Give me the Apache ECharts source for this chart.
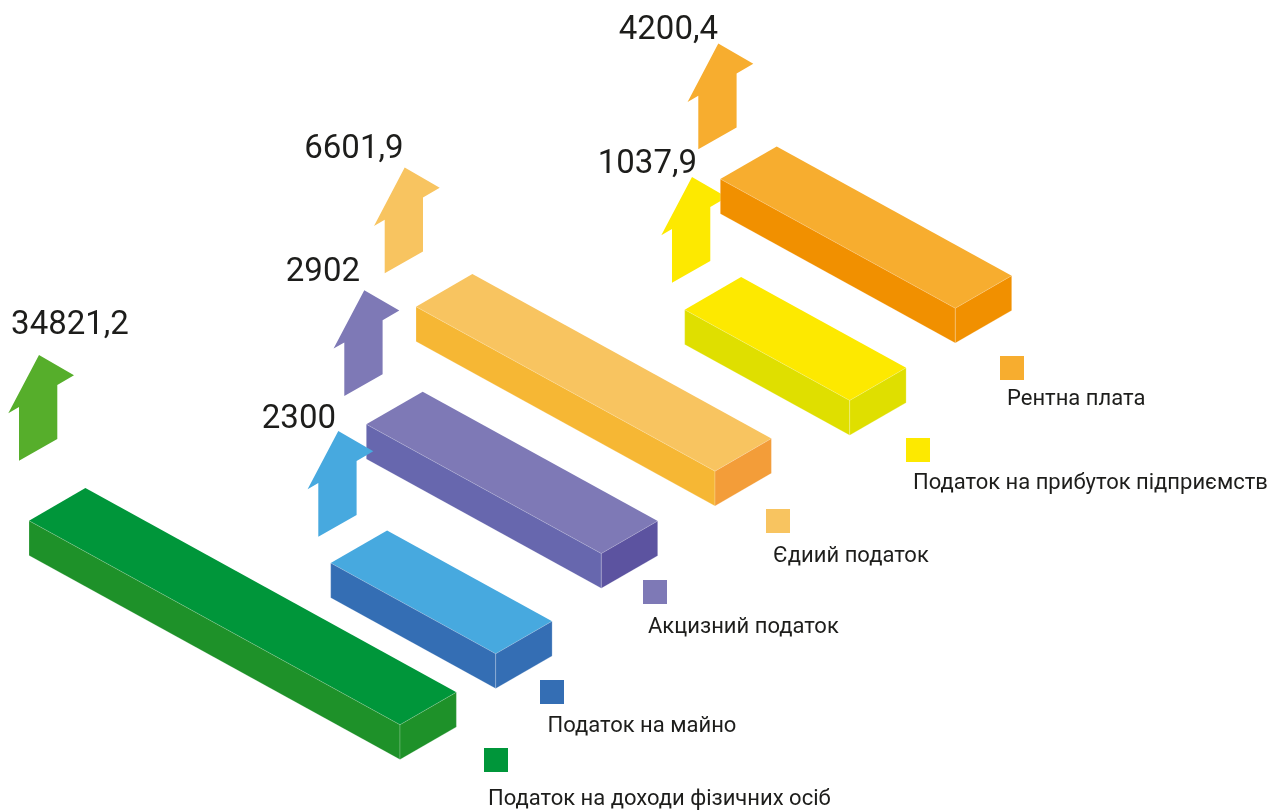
<!DOCTYPE html>
<html>
<head>
<meta charset="utf-8">
<script src="https://cdn.jsdelivr.net/npm/echarts@6/dist/echarts.min.js"></script>
<style>
html,body{margin:0;padding:0;background:#ffffff;}
#chart{width:1270px;height:810px;}
</style>
</head>
<body>
<div id="chart"></div>
<script>
// ---- data ----
const categories = [
  'Податок на доходи фізичних осіб',
  'Податок на майно',
  'Акцизний податок',
  'Єдиий податок',
  'Податок на прибуток підприємств',
  'Рентна плата'
];
const values = [34821.2, 2300, 2902, 6601.9, 1037.9, 4200.4];
// visual length of each isometric bar (horizontal extent, axis units)
const barLengths = [371, 165, 235, 299, 165, 235];

// ---- layout (positions in axis units, kept apart from data) ----
const layout = [
  { bar: [29, 520.7],   arrow: [19, 460.7],   label: [70, 326], labelAlign: 'center', key: [484, 748], keyText: [488, 799],   arrowZ: 20 },
  { bar: [330.7, 563],  arrow: [318.3, 536.7], label: [336, 420], labelAlign: 'right', key: [540, 680], keyText: [547.5, 726.5], arrowZ: 20 },
  { bar: [366.3, 424.3], arrow: [344.3, 396], label: [360, 273],  labelAlign: 'right', key: [643, 580], keyText: [648, 627],   arrowZ: 20 },
  { bar: [416, 306.7],  arrow: [384.7, 273.3], label: [403.5, 150], labelAlign: 'right', key: [766, 509], keyText: [773, 556.5], arrowZ: 20 },
  { bar: [684.7, 309.7], arrow: [672, 282.7], label: [697, 165],  labelAlign: 'right', key: [906, 438], keyText: [913, 483.5], arrowZ: 5 },
  { bar: [720.3, 179],  arrow: [698.3, 149.3], label: [718, 30.5], labelAlign: 'right', key: [1000, 356], keyText: [1007, 399.5], arrowZ: 20 }
];

// ---- styles ----
const palette = [
  { top: '#00963a', front: '#1e9129', end: '#1e9129', arrow: '#56ae2b', key: '#00963a' },
  { top: '#47a9df', front: '#346eb4', end: '#346eb4', arrow: '#47a9df', key: '#346eb4' },
  { top: '#7e79b6', front: '#6767ae', end: '#5c53a0', arrow: '#7e79b6', key: '#7e79b6' },
  { top: '#f8c460', front: '#f6b734', end: '#f39d39', arrow: '#f8c460', key: '#f8c460' },
  { top: '#fde900', front: '#dfdf00', end: '#dfdf00', arrow: '#fde900', key: '#fde900' },
  { top: '#f7ad2f', front: '#f19000', end: '#f19000', arrow: '#f7ad2f', key: '#f7ad2f' }
];
const SLOPE = 0.55;           // screen slope of the bar length direction
const DEPTH = [56.4, -32.6];  // bar width vector (px)
const HEIGHT = 34.8;          // bar thickness (px)
const ARROW = [[0,0],[0,-53.6],[-10.7,-47.4],[20,-105.7],[55,-85.5],[38.3,-75.7],[38.3,-21.7]];
const TEXT_COLOR = '#1d1d1b';

function fmt(v) { return String(v).replace('.', ','); }

const seriesData = categories.map((name, i) => ({
  name: name,
  value: [layout[i].bar[0], layout[i].bar[1], barLengths[i], values[i], i]
}));

function renderItem(params, api) {
  const i = api.value(4);
  const lay = layout[i];
  const col = palette[i];
  const p0 = api.coord([api.value(0), api.value(1)]);
  const L = api.size([api.value(2), 0])[0];
  const FLT = p0;
  const FRT = [p0[0] + L, p0[1] + L * SLOPE];
  const BLT = [p0[0] + DEPTH[0], p0[1] + DEPTH[1]];
  const BRT = [FRT[0] + DEPTH[0], FRT[1] + DEPTH[1]];
  const dn = p => [p[0], p[1] + HEIGHT];
  const seam = 'rgba(255,255,255,0.35)';
  const children = [
    { type: 'polygon', z2: 10, shape: { points: [FLT, BLT, BRT, FRT] }, style: { fill: col.top } },
    { type: 'polygon', z2: 10, shape: { points: [FLT, FRT, dn(FRT), dn(FLT)] }, style: { fill: col.front, stroke: seam, lineWidth: 0.6 } },
    { type: 'polygon', z2: 10, shape: { points: [FRT, BRT, dn(BRT), dn(FRT)] }, style: { fill: col.end, stroke: seam, lineWidth: 0.6 } }
  ];
  const a0 = api.coord(lay.arrow);
  children.push({
    type: 'polygon', z2: lay.arrowZ,
    shape: { points: ARROW.map(p => [a0[0] + p[0], a0[1] + p[1]]) },
    style: { fill: col.arrow }
  });
  const lp = api.coord(lay.label);
  children.push({
    type: 'text', z2: 30, x: lp[0], y: lp[1],
    style: { text: fmt(api.value(3)), fill: TEXT_COLOR, font: '400 33px Roboto', align: lay.labelAlign, verticalAlign: 'middle' }
  });
  const kp = api.coord(lay.key);
  children.push({ type: 'rect', z2: 30, shape: { x: kp[0], y: kp[1], width: 24, height: 24 }, style: { fill: col.key } });
  const tp = api.coord(lay.keyText);
  children.push({
    type: 'text', z2: 30, x: tp[0], y: tp[1],
    style: { text: categories[i], fill: TEXT_COLOR, font: '400 22px Roboto', align: 'left', verticalAlign: 'middle' }
  });
  return { type: 'group', children: children };
}

const chart = echarts.init(document.getElementById('chart'), null, { renderer: 'canvas' });
chart.setOption({
  animation: false,
  backgroundColor: '#ffffff',
  grid: { left: 0, right: 0, top: 0, bottom: 0, containLabel: false },
  xAxis: { type: 'value', min: 0, max: 1270, show: false },
  yAxis: { type: 'value', min: 0, max: 810, inverse: true, show: false },
  series: [{
    type: 'custom',
    silent: true,
    renderItem: renderItem,
    encode: { x: 0, y: 1 },
    data: seriesData,
    clip: false
  }]
});
</script>
</body>
</html>
